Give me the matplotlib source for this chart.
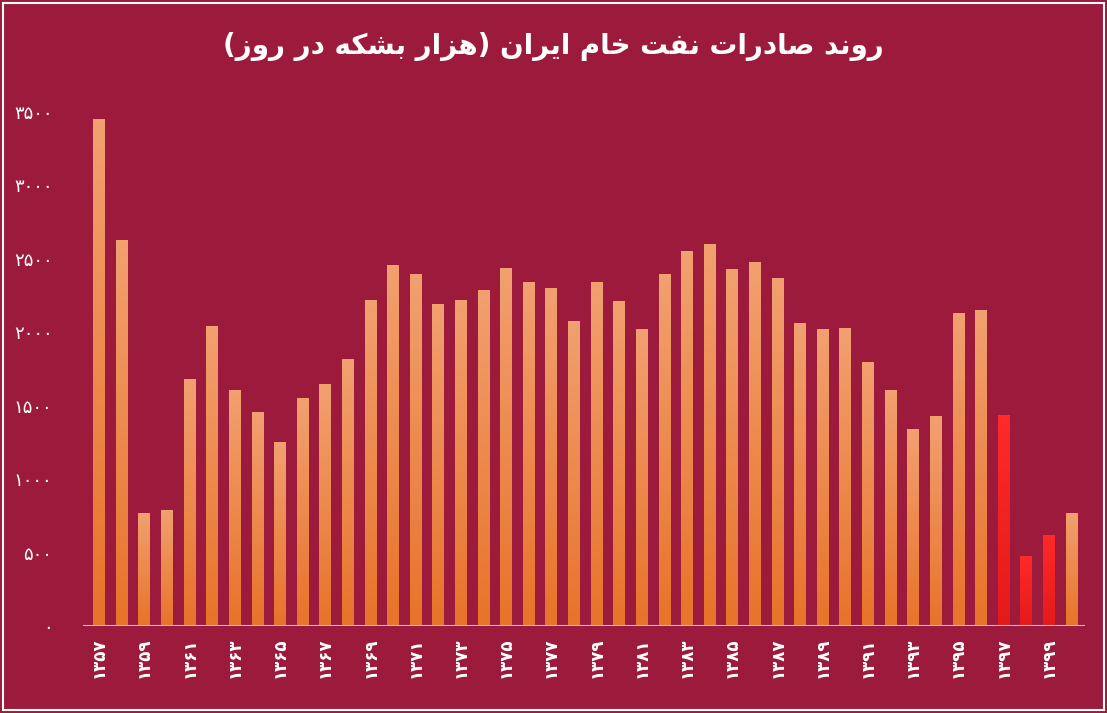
import numpy as np
import matplotlib.pyplot as plt
from matplotlib.colors import LinearSegmentedColormap

# -------------------- DATA --------------------
years = list(range(1357, 1401))
exports = [3450, 2630, 770, 790, 1680, 2040, 1610, 1460, 1250, 1550,
           1650, 1820, 2220, 2460, 2400, 2190, 2220, 2290, 2440, 2340,
           2300, 2080, 2340, 2210, 2020, 2400, 2550, 2600, 2430, 2480,
           2370, 2060, 2020, 2030, 1800, 1610, 1340, 1430, 2130, 2150,
           1440, 480, 620, 770]
red_years = {1397, 1398, 1399}
yticks = [0, 500, 1000, 1500, 2000, 2500, 3000, 3500]
title = "روند صادرات نفت خام ایران (هزار بشکه در روز)"

# -------------------- SIMPLE PERSIAN SHAPING --------------------
FORMS = {  # isolated, final, initial, medial
    'ا': (0xFE8D, 0xFE8E), 'د': (0xFEA9, 0xFEAA), 'ر': (0xFEAD, 0xFEAE),
    'ز': (0xFEAF, 0xFEB0), 'و': (0xFEED, 0xFEEE),
    'ن': (0xFEE5, 0xFEE6, 0xFEE7, 0xFEE8), 'ص': (0xFEB9, 0xFEBA, 0xFEBB, 0xFEBC),
    'ت': (0xFE95, 0xFE96, 0xFE97, 0xFE98), 'ف': (0xFED1, 0xFED2, 0xFED3, 0xFED4),
    'خ': (0xFEA5, 0xFEA6, 0xFEA7, 0xFEA8), 'م': (0xFEE1, 0xFEE2, 0xFEE3, 0xFEE4),
    'ی': (0xFBFC, 0xFBFD, 0xFBFE, 0xFBFF), 'ه': (0xFEE9, 0xFEEA, 0xFEEB, 0xFEEC),
    'ب': (0xFE8F, 0xFE90, 0xFE91, 0xFE92), 'ش': (0xFEB5, 0xFEB6, 0xFEB7, 0xFEB8),
    'ک': (0xFB8E, 0xFB8F, 0xFB90, 0xFB91),
}


def shape(s):
    out = []
    for i, ch in enumerate(s):
        if ch not in FORMS:
            out.append({'(': ')', ')': '('}.get(ch, ch))
            continue
        prev = s[i - 1] if i > 0 else ''
        nxt = s[i + 1] if i + 1 < len(s) else ''
        join_prev = prev in FORMS and len(FORMS[prev]) == 4
        join_next = nxt in FORMS and len(FORMS[ch]) == 4
        f = FORMS[ch]
        if join_prev and join_next:
            c = f[3]
        elif join_prev:
            c = f[1]
        elif join_next:
            c = f[2]
        else:
            c = f[0]
        out.append(chr(c))
    return ''.join(reversed(out))


def fa_digits(n):
    return ''.join(chr(0x06F0 + int(d)) for d in str(n))


# -------------------- PLOT --------------------
bg = '#9c1a3c'
fig = plt.figure(figsize=(11.07, 7.13), dpi=100, facecolor=bg)
ax = fig.add_axes([0.075, 0.122, 0.905, 0.755], facecolor=bg)

x = np.arange(len(years))
orange = LinearSegmentedColormap.from_list('o', ['#e8732a', '#f2a070'])
red = LinearSegmentedColormap.from_list('r', ['#e41a1a', '#ff2a2a'])
grad = np.linspace(0, 1, 100).reshape(-1, 1)
bars = ax.bar(x, exports, width=0.5, color='none', edgecolor='none')
for b, yr in zip(bars, years):
    cmap = red if yr in red_years else orange
    im = ax.imshow(grad, cmap=cmap, origin='lower', aspect='auto',
                   extent=[b.get_x(), b.get_x() + b.get_width(), 0, b.get_height()],
                   zorder=2)
    im.set_clip_path(b)

ax.axhline(0, color='#f4b0b8', linewidth=1.5, zorder=3)
ax.set_xlim(-0.7, len(years) - 0.4)
ax.set_ylim(0, 3665)
ax.set_yticks(yticks)
ax.set_yticklabels([fa_digits(v) for v in yticks], color='white', fontsize=13)
ax.set_xticks(x[::2])
ax.set_xticklabels([fa_digits(y) for y in years[::2]], rotation=90,
                   color='white', fontsize=12, fontweight='bold')
ax.tick_params(length=0, pad=8)
ax.tick_params(axis='y', pad=22)
for s in ax.spines.values():
    s.set_visible(False)

fig.text(0.5, 0.935, shape(title), ha='center', va='center', color='white',
         fontsize=20, fontweight='bold', family='DejaVu Sans')
fig.patches.append(plt.Rectangle((0.003, 0.004), 0.994, 0.992, transform=fig.transFigure,
                                 fill=False, edgecolor='white', linewidth=1.5))

fig.savefig('out.png', dpi=100, facecolor=bg)
